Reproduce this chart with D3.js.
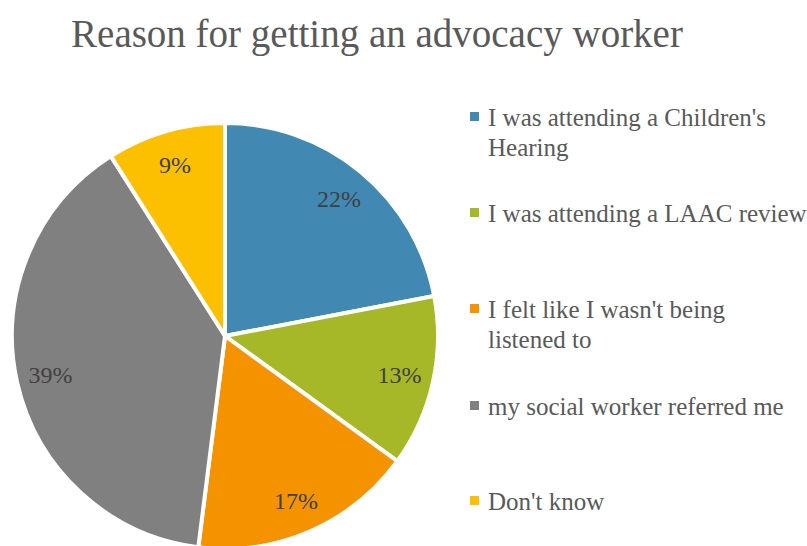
<!DOCTYPE html>
<html>
<head>
<meta charset="utf-8">
<script src="https://cdn.jsdelivr.net/npm/d3@7"></script>
<style>
  html, body { margin: 0; padding: 0; background: #ffffff; }
  svg { display: block; }
</style>
</head>
<body>
<script>
// Survey answers: why the young person got an advocacy worker
const categories = [
  "I was attending a Children's Hearing",
  "I was attending a LAAC review",
  "I felt like I wasn't being listened to",
  "my social worker referred me",
  "Don't know"
];
const shares = [22, 13, 17, 39, 9];
const colors = ["#4189b3", "#a6b827", "#f59200", "#808080", "#fdc000"];
// Legend entries, split into the lines they are printed on
const legendLines = [
  ["I was attending a Children's", "Hearing"],
  ["I was attending a LAAC review"],
  ["I felt like I wasn't being", "listened to"],
  ["my social worker referred me"],
  ["Don't know"]
];
const title = "Reason for getting an advocacy worker";

const W = 807, H = 546;
const cx = 225, cy = 336, R = 213;
const serif = "Constantia, 'Liberation Serif', 'DejaVu Serif', serif";

const svg = d3.select("body").append("svg")
  .attr("width", W).attr("height", H);

svg.append("text")
  .attr("x", 377).attr("y", 47)
  .attr("text-anchor", "middle")
  .attr("font-family", serif)
  .attr("font-size", 39)
  .attr("fill", "#595959")
  .text(title);

const data = categories.map((c, i) => ({ name: c, value: shares[i], color: colors[i] }));

const pie = d3.pie().sort(null).value(d => d.value);
const arc = d3.arc().innerRadius(0).outerRadius(R);
const labelArc = d3.arc().innerRadius(R * 0.84).outerRadius(R * 0.84);

const g = svg.append("g").attr("transform", `translate(${cx},${cy})`);
const arcs = pie(data);

g.selectAll("path.slice")
  .data(arcs)
  .join("path")
  .attr("class", "slice")
  .attr("d", arc)
  .attr("fill", d => d.data.color)
  .attr("stroke", "#ffffff")
  .attr("stroke-width", 4)
  .attr("stroke-linejoin", "round");

g.selectAll("text.pct")
  .data(arcs)
  .join("text")
  .attr("class", "pct")
  .attr("transform", d => `translate(${labelArc.centroid(d)})`)
  .attr("text-anchor", "middle")
  .attr("dy", "0.35em")
  .attr("font-family", serif)
  .attr("font-size", 24)
  .attr("fill", "#404040")
  .text(d => d.data.value + "%");

// Legend on the right
const legendY = [117, 213, 309, 406, 501];
const legend = svg.append("g");
data.forEach((d, i) => {
  const row = legend.append("g").attr("transform", `translate(470,${legendY[i]})`);
  row.append("rect")
    .attr("x", 0).attr("y", -5)
    .attr("width", 9).attr("height", 9)
    .attr("fill", d.color);
  legendLines[i].forEach((line, j) => {
    row.append("text")
      .attr("x", 18).attr("y", j * 30)
      .attr("dy", "0.35em")
      .attr("font-family", serif)
      .attr("font-size", 25)
      .attr("fill", "#595959")
      .text(line);
  });
});
</script>
</body>
</html>
